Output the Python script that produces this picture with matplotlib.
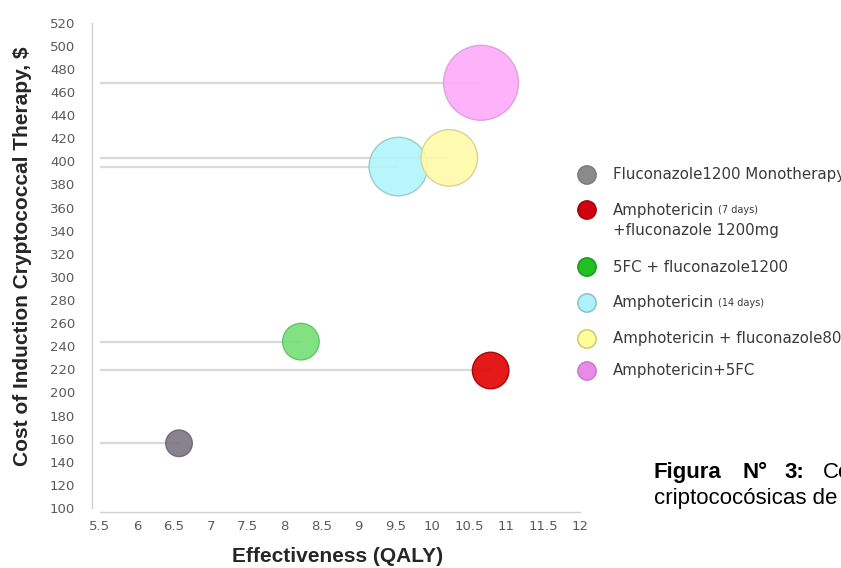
import numpy as np
import matplotlib.pyplot as plt

# therapy regimens: effectiveness (QALY) vs induction cost ($)
regimens = ['Fluconazole1200 Monotherapy',
            'Amphotericin (7 days) +fluconazole 1200mg',
            '5FC + fluconazole1200',
            'Amphotericin (14 days)',
            'Amphotericin + fluconazole800',
            'Amphotericin+5FC']
effect = [6.57, 10.79, 8.22, 9.54, 10.23, 10.66]
cost = [156, 219, 244, 395.5, 403, 468]
bubble_value = [177, 335, 335, 858, 801, 1406]

x_ticks = np.arange(5.5, 12.01, 0.5)
y_ticks = np.arange(100, 521, 20)

fill = ['#7b7682', '#e10000', '#74de74', '#b0f5fa', '#fefaa6', '#fdaafa']
edge = ['#6a6570', '#a00000', '#5cc25c', '#93c6cc', '#d6cf8e', '#d59fd9']
key_fill = ['#8a8a8a', '#d0000f', '#22bf22', '#b0f0f8', '#ffff99', '#e88ae8']
key_edge = ['#7a7a7a', '#a0000a', '#119911', '#7fbfcf', '#c8c860', '#c878c8']

W, H = 841, 568
fig = plt.figure(figsize=(W/100, H/100), dpi=100)
ax = fig.add_axes([100/W, 60/H, 480/W, 485.3/H])

# drop lines from the y axis to each bubble
ax.hlines(cost, 5.5, effect, color='#d9d9d9', lw=1.6, zorder=1)
ax.scatter(effect, cost, s=np.array(bubble_value)*2.07, c=fill,
           edgecolors=edge, linewidths=1.0, alpha=0.9, zorder=3)

ax.set_xlim(5.5, 12)
ax.set_ylim(100, 520)
ax.set_xticks(x_ticks)
ax.set_xticklabels(['%g' % v for v in x_ticks])
ax.set_yticks(y_ticks)
for s in ['top', 'right']:
    ax.spines[s].set_visible(False)
for s in ['left', 'bottom']:
    ax.spines[s].set_color('#d0d0d0')
    ax.spines[s].set_linewidth(1.0)
ax.spines['left'].set_position(('outward', 5.8))
ax.spines['bottom'].set_position(('outward', 2.9))
ax.tick_params(length=0, labelcolor='#5a5a5a', labelsize=9.5)
ax.tick_params(axis='y', pad=12)
ax.tick_params(axis='x', pad=6)

fig.text(23/W, 1 - 256/H, 'Cost of Induction Cryptococcal Therapy, $',
         rotation=90, ha='center', va='center', fontsize=15,
         fontweight='bold', family='Liberation Sans', color='#262626')
fig.text(338/W, 1 - 557/H, 'Effectiveness (QALY)', ha='center', va='center',
         fontsize=15, fontweight='bold', family='Liberation Sans', color='#262626')

# legend and caption drawn in pixel space
ov = fig.add_axes([0, 0, 1, 1])
ov.set_xlim(0, W)
ov.set_ylim(H, 0)
ov.axis('off')

key_y = [175, 210, 267, 303, 339, 371]
ov.scatter([587]*6, key_y, s=175, c=key_fill, edgecolors=key_edge, linewidths=1)
txt_kw = dict(fontsize=10.8, color='#3a3a3a', va='center')
ov.text(613, key_y[0], 'Fluconazole1200 Monotherapy', **txt_kw)
t1 = ov.text(613, key_y[1], 'Amphotericin', **txt_kw)
ov.annotate('(7 days)', xy=(1, 0.5), xycoords=t1, xytext=(3, 0),
            textcoords='offset points', fontsize=7, color='#3a3a3a', va='center')
ov.text(613, 230, '+fluconazole 1200mg', **txt_kw)
ov.text(613, key_y[2], '5FC + fluconazole1200', **txt_kw)
t3 = ov.text(613, key_y[3], 'Amphotericin', **txt_kw)
ov.annotate('(14 days)', xy=(1, 0.5), xycoords=t3, xytext=(3, 0),
            textcoords='offset points', fontsize=7, color='#3a3a3a', va='center')
ov.text(613, key_y[4], 'Amphotericin + fluconazole800', **txt_kw)
ov.text(613, key_y[5], 'Amphotericin+5FC', **txt_kw)

cap_kw = dict(fontsize=16, family='Liberation Sans', color='black', va='baseline')
ov.text(654, 478, 'Figura', fontweight='bold', **cap_kw)
ov.text(742.7, 478, 'N°', fontweight='bold', **cap_kw)
ov.text(784, 478, '3:', fontweight='bold', **cap_kw)
ov.text(822.7, 478, 'Co', **cap_kw)
ov.text(654, 504, 'criptococósicas de', **cap_kw)

fig.savefig('out.png', dpi=100, facecolor='white')
